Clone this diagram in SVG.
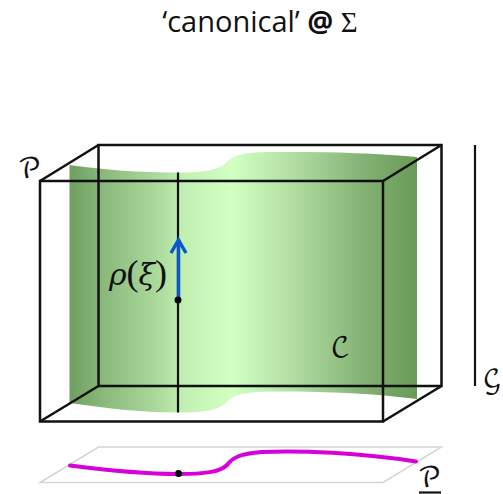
<svg xmlns="http://www.w3.org/2000/svg" width="503" height="494" viewBox="0 0 503 494">
<style>
.box{fill:none;stroke:#111;stroke-width:2.500;stroke-linejoin:miter}
.script{font-family:"DejaVu Math TeX Gyre","DejaVu Serif",serif;fill:#111;font-size:28px;text-anchor:middle}
</style>
<defs>
<linearGradient id="g" gradientUnits="userSpaceOnUse" x1="69" y1="0" x2="417" y2="0">
<stop offset="0" stop-color="#6e9f60"/>
<stop offset="0.1" stop-color="#8ab97b"/>
<stop offset="0.25" stop-color="#aad99b"/>
<stop offset="0.33" stop-color="#c2f0b2"/>
<stop offset="0.47" stop-color="#d2ffc2"/>
<stop offset="0.65" stop-color="#b0dd9f"/>
<stop offset="0.85" stop-color="#82b173"/>
<stop offset="1" stop-color="#699a57"/>
</linearGradient>
</defs>
<rect width="503" height="494" fill="#fff"/>
<g id="surface">
<path d="M69.500 165C105 170 140 172.500 178 172.500C205 172.500 218 170 226 163C232 156 242 152.500 268 152C320 151.500 370 152.500 417 157L417 399C370 393 320 391 268 391.500C242 392 232 396 226 403C218 410 205 412.500 178 412.500C140 412.500 105 408 69.500 403Z" fill="url(#g)"/>
</g>
<g id="plane">
<path d="M98.500 447H441.500L383 482.500H40Z" fill="none" stroke="#d4d6d2" stroke-width="1.500"/>
</g>
<g id="connectors">
<path class="box" d="M98.500 145H441.500V386H98.500Z"/>
<path class="box" d="M40 181H383V421.500H40Z"/>
<path class="box" d="M40 181L98.500 145M383 181L441.500 145M40 421.500L98.500 386M383 421.500L441.500 386"/>
<path d="M178 172.500V412.500" fill="none" stroke="#111" stroke-width="2.200"/>
<path d="M475 145V386" fill="none" stroke="#111" stroke-width="2.200"/>
<path d="M178.500 300V241M171 253L178.500 240L186 253" fill="none" stroke="#0a58cc" stroke-width="3.500"/>
<path d="M70 465.500C105 470 140 474 178 474C205 474 220 472 227 465C233 457 240 454 262 452C300 450 360 453 416 461.500" fill="none" stroke="#d800d8" stroke-width="4" stroke-linecap="round"/>
<path d="M419 492.500H441" fill="none" stroke="#111" stroke-width="2.200"/>
</g>
<g id="point-top"><circle cx="178" cy="300" r="3.500" fill="#000"/></g>
<g id="point-bottom"><circle cx="178.500" cy="473.500" r="3.500" fill="#000"/></g>
<g id="labels">
<text x="260" y="32" text-anchor="middle" font-family="'Open Sans','Noto Sans',sans-serif" font-size="29" fill="#111">‘canonical’ <tspan font-weight="700">@</tspan> <tspan font-family="'Liberation Serif',serif">Σ</tspan></text>
<text class="script" transform="translate(32 178) skewX(10)">𝒫</text>
<text x="138" y="285" text-anchor="middle" font-size="30" font-family="'DejaVu Serif',serif" fill="#111"><tspan font-style="italic">ρ</tspan><tspan font-family="'Liberation Serif',serif" font-size="36">(</tspan><tspan font-style="italic">ξ</tspan><tspan font-family="'Liberation Serif',serif" font-size="36">)</tspan></text>
<text class="script" transform="translate(342 357) skewX(10)">𝒞</text>
<text class="script" font-size="26" style="font-size:26px" transform="translate(493 388) skewX(10)">𝒢</text>
<text class="script" transform="translate(432 487) skewX(10)">𝒫</text>
</g>
</svg>
